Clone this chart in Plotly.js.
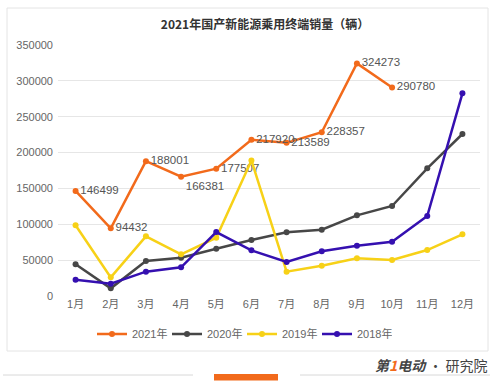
<!DOCTYPE html>
<html><head><meta charset="utf-8">
<script src="https://cdn.plot.ly/plotly-3.0.1.min.js"></script>
<style>html,body{margin:0;padding:0;background:#fff;}#chart{width:500px;height:386px;}</style>
</head><body><div id="chart"></div>
<script>
const months = ["1月","2月","3月","4月","5月","6月","7月","8月","9月","10月","11月","12月"];
const y2021 = [146499, 94432, 188001, 166381, 177507, 217920, 213589, 228357, 324273, 290780];
const y2020 = [44200, 10700, 48800, 53400, 66000, 78000, 88800, 92500, 112500, 125500, 178000, 225900];
const y2019 = [98600, 26000, 83200, 58100, 81300, 189000, 33900, 42300, 52500, 50200, 64100, 86000];
const y2018 = [22800, 17200, 33900, 40000, 89200, 63700, 47400, 62300, 70200, 75700, 111500, 282600];
const labelPos2021 = ["middle right","middle right","middle right","bottom right","middle right","middle right","middle right","middle right","middle right","middle right"];

const FONT = "Liberation Sans, Noto Sans CJK SC, sans-serif";
function tr(name, y, color, extra) {
  return Object.assign({
    type: "scatter", mode: "lines+markers", name: name,
    x: months.slice(0, y.length), y: y,
    line: {color: color, width: 2.5},
    marker: {color: color, size: 6},
    cliponaxis: false
  }, extra || {});
}
const traces = [
  tr("2021年", y2021, "#f26a1b", {
    mode: "lines+markers+text",
    text: y2021.map(String),
    textposition: labelPos2021,
    textfont: {color: "#555", size: 11.5, family: FONT}
  }),
  tr("2020年", y2020, "#474747"),
  tr("2019年", y2019, "#f7d117"),
  tr("2018年", y2018, "#3510b0")
];
function px(x){return (x-58)/422;}
function py(y){return (296-y)/251;}
const layout = {
  width: 500, height: 386,
  margin: {l: 58, r: 20, t: 45, b: 90},
  paper_bgcolor: "#fff", plot_bgcolor: "#fff",
  font: {family: FONT, color: "#666", size: 11},
  title: {text: "2021年国产新能源乘用终端销量（辆）", x: 0.53, xanchor: "center", y: 1 - 25/386, yanchor: "middle",
          font: {family: "Noto Sans CJK SC, sans-serif", size: 12, color: "#333", weight: "bold"}},
  xaxis: {type: "category", categoryarray: months, range: [-0.5, 11.5], showgrid: false, zeroline: false,
          showline: false, ticks: "", tickfont: {size: 11, color: "#666"}, fixedrange: true},
  yaxis: {range: [0, 350000], dtick: 50000, tickformat: "d", gridcolor: "#e6e6e6", gridwidth: 1,
          zeroline: false, showline: false, ticks: "", ticklabelstandoff: 4, tickfont: {size: 11, color: "#666"}},
  showlegend: true,
  legend: {orientation: "h", x: px(242), xanchor: "center", y: py(334), yanchor: "middle",
           font: {size: 11, color: "#666"}, itemwidth: 30, entrywidth: 30, entrywidthmode: "pixels",
           tracegroupgap: 0, bgcolor: "rgba(0,0,0,0)"},
  shapes: [
    {type: "rect", xref: "paper", yref: "paper", x0: px(7), x1: px(488), y0: py(351), y1: py(8),
     line: {color: "#e4e4e4", width: 1}, fillcolor: "rgba(0,0,0,0)", layer: "below"},
    {type: "line", xref: "paper", yref: "paper", x0: px(3), x1: px(193), y0: py(375), y1: py(375),
     line: {color: "#d8d8d8", width: 1}},
    {type: "line", xref: "paper", yref: "paper", x0: px(300), x1: px(490), y0: py(375), y1: py(375),
     line: {color: "#d8d8d8", width: 1}},
    {type: "rect", xref: "paper", yref: "paper", x0: px(214), x1: px(278), y0: py(380.5), y1: py(374),
     line: {width: 0}, fillcolor: "#f26a1b"}
  ],
  annotations: [
    {xref: "paper", yref: "paper", x: px(490), y: py(365), xanchor: "right", yanchor: "middle", showarrow: false,
     text: "<i><b>第<span style='color:#f26a1b'>1</span>电动</b></i> · 研究院",
     font: {family: "Noto Sans CJK SC, sans-serif", size: 14, color: "#444"}}
  ]
};
Plotly.newPlot("chart", traces, layout, {displayModeBar: false, staticPlot: true});
</script></body></html>
